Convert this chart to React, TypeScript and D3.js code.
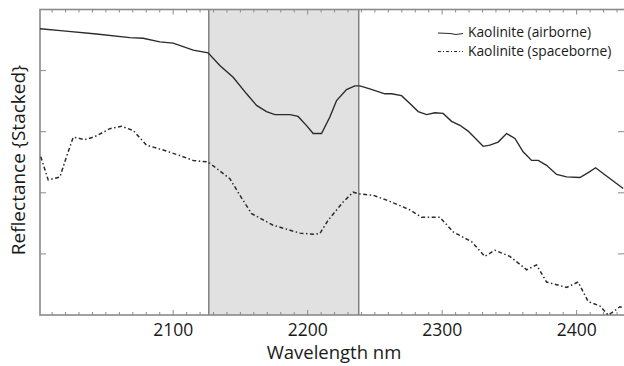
import React from "react";
import * as d3 from "d3";

const airborneWl = [2001, 2018.2, 2043, 2067.8, 2077.7, 2090.1, 2100, 2114.9, 2126, 2134.7, 2144.6, 2154.6, 2162, 2169.4, 2175.6, 2186.8, 2192.9, 2199.2, 2204.1, 2210.3, 2216.5, 2221.5, 2228.9, 2235.1, 2238.8, 2246.2, 2257.4, 2262.4, 2269.8, 2276, 2282.2, 2288.4, 2294.6, 2300.7, 2307, 2313.2, 2319.3, 2330.5, 2335.5, 2341.6, 2347.9, 2354.1, 2360.2, 2366.5, 2371.4, 2377.6, 2385.1, 2392.5, 2402.4, 2408.6, 2414.1, 2419.7, 2434.6];
const airborneVal = [46.85, 46.5, 46.0, 45.4, 45.3, 44.7, 44.5, 43.35, 42.9, 40.85, 38.9, 36.2, 34.3, 33.3, 32.8, 32.8, 32.5, 31.0, 29.7, 29.7, 32.4, 35.1, 36.9, 37.5, 37.5, 37.0, 36.2, 36.2, 35.9, 34.6, 33.3, 32.8, 33.1, 33.0, 31.7, 31.05, 30.1, 27.6, 27.8, 28.3, 29.7, 28.9, 26.7, 25.3, 25.3, 24.5, 23.0, 22.6, 22.5, 23.3, 24.1, 23.15, 20.7];

const spaceWl = [2001.6, 2007.1, 2015.8, 2020.7, 2025.7, 2034.4, 2041.8, 2053, 2061.6, 2070.3, 2080.2, 2092.6, 2105, 2114.9, 2126, 2142.2, 2149.6, 2158.3, 2174.3, 2194.2, 2205.4, 2209.1, 2215.2, 2226.4, 2233.8, 2238.8, 2248.7, 2258.7, 2268.6, 2276, 2284.7, 2298.3, 2308.2, 2321.9, 2331.7, 2339.2, 2350.3, 2362.8, 2370.2, 2377.6, 2392.5, 2401.1, 2408.6, 2417.2, 2423.4, 2427.1, 2432.1, 2435];
const spaceVal = [25.9, 22.1, 22.6, 25.9, 29.1, 28.7, 29.2, 30.5, 30.9, 30.2, 27.8, 27.0, 26.1, 25.3, 25.05, 22.3, 19.6, 16.6, 14.7, 13.4, 13.2, 13.35, 15.5, 18.5, 20.1, 19.8, 19.6, 18.8, 17.9, 17.2, 16.0, 16.0, 13.6, 12.0, 9.6, 10.6, 9.6, 7.4, 8.2, 5.4, 4.5, 5.4, 2.2, 1.5, 0, 0.5, 1.35, 1.2];

const xTickLabels = [2100, 2200, 2300, 2400];
const yTicks = [10, 20, 30, 40];
const shadeRange = [2126.5, 2238];
const seriesNames = ["Kaolinite (airborne)", "Kaolinite (spaceborne)"];

const W = 624;
const H = 366;
const left = 40, right = 624, top = 9.5, bottom = 315;

export default function App() {
  const x = d3.scaleLinear().domain([2001, 2435.2]).range([left, right]);
  const y = d3.scaleLinear().domain([0, 50]).range([bottom, top]);
  const line = d3.line<[number, number]>().x((d) => x(d[0])).y((d) => y(d[1]));
  const air: [number, number][] = airborneWl.map((w, i) => [w, airborneVal[i]]);
  const sp: [number, number][] = spaceWl.map((w, i) => [w, spaceVal[i]]);
  const minor = d3.range(2010, 2436, 10);
  const axisColor = "#8a8a8a";
  const font = "'Open Sans', sans-serif";
  return (
    <svg width={W} height={H} style={{ position: "absolute", left: 0, top: 0 }} fontFamily={font}>
      <rect x={0} y={0} width={W} height={H} fill="#fff" />
      <rect x={x(shadeRange[0])} y={top} width={x(shadeRange[1]) - x(shadeRange[0])} height={bottom - top} fill="#e1e1e1" />
      <line x1={x(shadeRange[0])} x2={x(shadeRange[0])} y1={top} y2={bottom} stroke="#707070" strokeWidth={1.3} />
      <line x1={x(shadeRange[1])} x2={x(shadeRange[1])} y1={top} y2={bottom} stroke="#707070" strokeWidth={1.3} />
      {minor.map((t) => {
        const major = t % 100 === 0;
        const len = major ? 5 : 3;
        return (
          <g key={t} stroke={axisColor} strokeWidth={1}>
            <line x1={x(t)} x2={x(t)} y1={bottom} y2={bottom - len} />
            <line x1={x(t)} x2={x(t)} y1={top} y2={top + len} />
          </g>
        );
      })}
      {yTicks.map((t) => (
        <g key={t} stroke={axisColor} strokeWidth={1}>
          <line x1={left} x2={left + 6} y1={y(t)} y2={y(t)} />
          <line x1={right - 6} x2={right} y1={y(t)} y2={y(t)} />
        </g>
      ))}
      <rect x={left} y={top} width={right - left + 2} height={bottom - top} fill="none" stroke={axisColor} strokeWidth={1.6} />
      <path d={line(air) || ""} fill="none" stroke="#2b2b2b" strokeWidth={1.4} />
      <path d={line(sp) || ""} fill="none" stroke="#2b2b2b" strokeWidth={1.5} strokeDasharray="4,2.5,1.5,2.5" />
      {xTickLabels.map((t) => (
        <text key={t} x={x(t)} y={335.5} textAnchor="middle" fontSize={17.5} fill="#1a1a1a">{t}</text>
      ))}
      <text x={334} y={358.5} textAnchor="middle" fontSize={18.5} fill="#1a1a1a">Wavelength nm</text>
      <text transform={`translate(25,160) rotate(-90)`} textAnchor="middle" fontSize={19} fill="#1a1a1a">Reflectance {"{Stacked}"}</text>
      <g>
        <path d="M438,33 L450,33.5 L456,34.5 L463,33.5" fill="none" stroke="#2b2b2b" strokeWidth={1.2} />
        <text x={468} y={36.5} fontSize={13.8} fill="#1a1a1a">{seriesNames[0]}</text>
        <line x1={438} x2={463} y1={51.5} y2={51.5} stroke="#2b2b2b" strokeWidth={1.2} strokeDasharray="3,2,1,2" />
        <text x={468} y={55.5} fontSize={13.8} fill="#1a1a1a">{seriesNames[1]}</text>
      </g>
    </svg>
  );
}
